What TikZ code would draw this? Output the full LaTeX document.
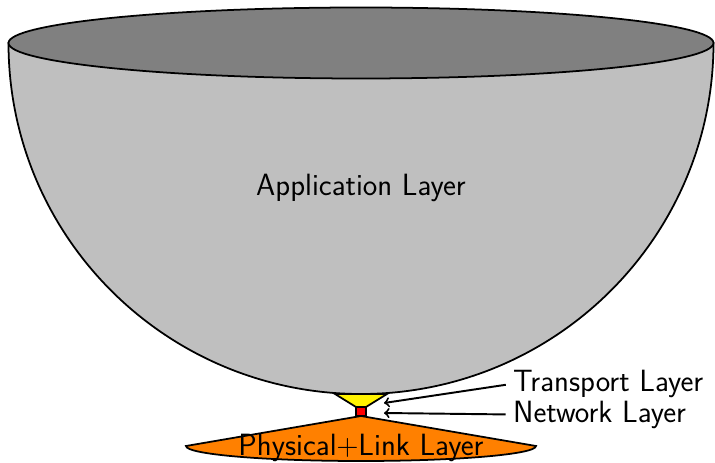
\documentclass[tikz,border=0pt]{standalone}
\begin{document}
\begin{tikzpicture}[every node/.style={font=\sffamily\fontsize{17.5}{21}\selectfont, inner sep=1pt}, layer/.style={draw, line width=1pt}]
			\useasboundingbox (-7.22,0) rectangle (7.08,9.24);
			
			% lower layers
			\draw[layer, fill=orange] (-3.5,0.32) -- (0,0.92) -- (3.5,0.32) arc[start angle=0, end angle=-180, x radius=3.5, y radius=0.3] -- cycle;
			\draw[layer, fill=red] (-0.1,0.92) rectangle (0.1,1.1);
			\draw[layer, fill=yellow] (-0.1,1.1) -- (-0.52,1.36) -- (0.52,1.36) -- (0.1,1.1) -- cycle;
			
			% the bowl
			\draw[layer, fill=lightgray] (-7.05,8.38) arc[start angle=180, end angle=360, x radius=7.05, y radius=7.02] -- cycle;
			\draw[layer, fill=gray] (0,8.38) ellipse[x radius=7.05, y radius=0.71];
			
			\node (app) at (0,5.48) {Application Layer};
			\node[anchor=base] (phys) at (0,0.13) {Physical$+$Link Layer};
			\node[anchor=west] (trans) at (3.0,1.56) {Transport Layer};
			\node[anchor=west] (net) at (3.0,0.95) {Network Layer};
			
			\coordinate (transtip) at (0.46,1.18);
			\coordinate (nettip) at (0.46,0.98);
			
			\foreach \from/\to in {trans/transtip,net/nettip}
			\draw[->, line width=1.1pt, shorten <=3pt] (\from.west) -- (\to);
\end{tikzpicture}
\end{document}
